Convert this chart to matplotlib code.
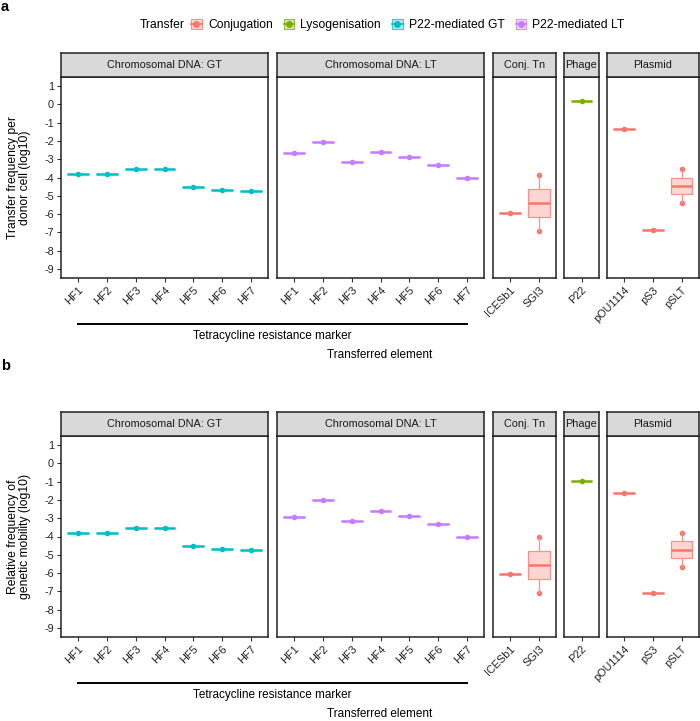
import matplotlib.pyplot as plt
import matplotlib.colors as mcolors
from matplotlib.patches import Rectangle
from matplotlib.lines import Line2D

plt.rcParams['font.family'] = ['Liberation Sans', 'DejaVu Sans']

# ---- data (log10 values) ----
hf_labels = ['HF1', 'HF2', 'HF3', 'HF4', 'HF5', 'HF6', 'HF7']
conj_labels = ['ICESb1', 'SGI3']
phage_labels = ['P22']
plasmid_labels = ['pOU1114', 'pS3', 'pSLT']

# panel a: transfer frequency per donor cell
gt_a = [-3.83, -3.79, -3.52, -3.52, -4.50, -4.70, -4.72]
lt_a = [-2.64, -2.04, -3.17, -2.62, -2.88, -3.32, -4.01]
icesb1_a = [-5.96]
sgi3_a = [-6.92, -5.41, -3.88]
p22_a = [0.18]
pou1114_a = [-1.37]
ps3_a = [-6.89]
pslt_a = [-5.38, -4.45, -3.55]

# panel b: relative frequency of genetic mobility
gt_b = [-3.83, -3.80, -3.52, -3.52, -4.50, -4.70, -4.72]
lt_b = [-2.93, -2.02, -3.17, -2.63, -2.89, -3.31, -4.03]
icesb1_b = [-6.07]
sgi3_b = [-7.09, -5.58, -4.04]
p22_b = [-0.95]
pou1114_b = [-1.60]
ps3_b = [-7.07]
pslt_b = [-5.65, -4.72, -3.81]

transfer_types = ['Conjugation', 'Lysogenisation', 'P22-mediated GT', 'P22-mediated LT']
transfer_colors = ['#F8766D', '#7CAE00', '#00BFC4', '#C77CFF']
col = dict(zip(transfer_types, transfer_colors))

facet_names = ['Chromosomal DNA: GT', 'Chromosomal DNA: LT', 'Conj. Tn', 'Phage', 'Plasmid']
yticks = list(range(-9, 2))

W, H = 700, 721
fig = plt.figure(figsize=(7, 7.21), dpi=100)

# facet horizontal extents in pixels
facet_x = [(61, 268), (277, 484), (493, 556.25), (564.25, 598.75), (606.75, 698.75)]


def light(c, a=0.3):
    r, g, b = mcolors.to_rgb(c)
    return (1 - a + a * r, 1 - a + a * g, 1 - a + a * b)


def px_axes(x0, y0, x1, y1):
    return fig.add_axes([x0 / W, 1 - y1 / H, (x1 - x0) / W, (y1 - y0) / H])


def to_fig(ax, x, y):
    return fig.transFigure.inverted().transform(ax.transData.transform((x, y)))


def draw_panel(top, facets, ylabel, letter):
    strip_top = top
    data_top = top + 24
    data_bot = top + 225
    axes = []
    for (x0, x1), name, cats in zip(facet_x, facet_names, facets):
        ax = px_axes(x0, data_top, x1, data_bot)
        n = len(cats)
        for i, (lab, vals, tr) in enumerate(cats):
            c = col[tr]
            ax.scatter([i + 1] * len(vals), vals, s=16, color=c, zorder=2, linewidths=0)
            ax.boxplot([vals], positions=[i + 1], widths=0.75, patch_artist=True,
                       showfliers=False, showcaps=False, whis=(0, 100), zorder=3,
                       boxprops=dict(facecolor=light(c), edgecolor=light(c, 0.8), linewidth=0.9),
                       whiskerprops=dict(color=light(c, 0.8), linewidth=0.9),
                       medianprops=dict(color=c, linewidth=1.8, solid_capstyle='butt'))
        ax.set_xlim(0.4, n + 0.6)
        ax.set_ylim(-9.5, 1.5)
        ax.set_xticks(range(1, n + 1))
        ax.set_xticklabels([c[0] for c in cats], rotation=45, ha='right',
                           rotation_mode='anchor', fontsize=7.8, color='#222222')
        ax.tick_params(axis='x', length=3, width=0.8, color='#333333', pad=2)
        for s in ax.spines.values():
            s.set_linewidth(1.1)
            s.set_color('#222222')
        if x0 == facet_x[0][0]:
            ax.set_yticks(yticks)
            ax.set_yticklabels([str(v) for v in yticks], fontsize=7.8, color='#222222')
            ax.tick_params(axis='y', length=3, width=0.8, color='#333333', pad=2)
        else:
            ax.set_yticks([])
        axes.append(ax)

        st = px_axes(x0, strip_top, x1, data_top)
        st.set_facecolor('#D9D9D9')
        st.set_xticks([])
        st.set_yticks([])
        for s in st.spines.values():
            s.set_linewidth(1.1)
            s.set_color('#222222')
        st.text(0.5, 0.5, name, ha='center', va='center', fontsize=7.8, color='#1A1A1A',
                transform=st.transAxes)

    # bracket under the HF labels
    p0 = to_fig(axes[0], 1, 0)
    p1 = to_fig(axes[1], 7, 0)
    yb = 1 - (top + 271) / H
    fig.add_artist(Line2D([p0[0], p1[0]], [yb, yb], color='black', linewidth=1.4))
    fig.text((p0[0] + p1[0]) / 2, 1 - (top + 283) / H, 'Tetracycline resistance marker',
             ha='center', va='center', fontsize=8.5)
    fig.text(380 / W, 1 - (top + 302) / H, 'Transferred element',
             ha='center', va='center', fontsize=8.5)
    fig.text(19 / W, 1 - ((data_top + data_bot) / 2) / H, ylabel, rotation=90,
             ha='center', va='center', multialignment='center', fontsize=8.7,
             linespacing=1.1)
    fig.text(1 / W, 1 - (top - 42) / H, letter, fontsize=10.5, fontweight='bold',
             ha='left', va='baseline')


facets_a = [
    [(l, [v], 'P22-mediated GT') for l, v in zip(hf_labels, gt_a)],
    [(l, [v], 'P22-mediated LT') for l, v in zip(hf_labels, lt_a)],
    [('ICESb1', icesb1_a, 'Conjugation'), ('SGI3', sgi3_a, 'Conjugation')],
    [('P22', p22_a, 'Lysogenisation')],
    [('pOU1114', pou1114_a, 'Conjugation'), ('pS3', ps3_a, 'Conjugation'),
     ('pSLT', pslt_a, 'Conjugation')],
]
facets_b = [
    [(l, [v], 'P22-mediated GT') for l, v in zip(hf_labels, gt_b)],
    [(l, [v], 'P22-mediated LT') for l, v in zip(hf_labels, lt_b)],
    [('ICESb1', icesb1_b, 'Conjugation'), ('SGI3', sgi3_b, 'Conjugation')],
    [('P22', p22_b, 'Lysogenisation')],
    [('pOU1114', pou1114_b, 'Conjugation'), ('pS3', ps3_b, 'Conjugation'),
     ('pSLT', pslt_b, 'Conjugation')],
]

draw_panel(53, facets_a, 'Transfer frequency per\ndonor cell (log10)', 'a')
draw_panel(412, facets_b, 'Relative frequency of\ngenetic mobility (log10)', 'b')

# legend
handles = []
for t in transfer_types:
    c = transfer_colors[transfer_types.index(t)]
    handles.append((Rectangle((0, 0), 1, 1, facecolor=light(c), edgecolor=light(c, 0.8), linewidth=0.8),
                    Line2D([], [], color=c, marker='o', markersize=4, linestyle='-', linewidth=1.2)))
fig.text(140 / W, 1 - 25 / H, 'Transfer', ha='left', va='center', fontsize=8.7)
fig.legend(handles, transfer_types, loc='center left', bbox_to_anchor=(191 / W, 1 - 25 / H),
           ncol=4, frameon=False, fontsize=8.7, handlelength=0.9, handleheight=0.9,
           handletextpad=0.5, columnspacing=0.9, borderaxespad=0, borderpad=0)

fig.savefig('out.png', dpi=100)
